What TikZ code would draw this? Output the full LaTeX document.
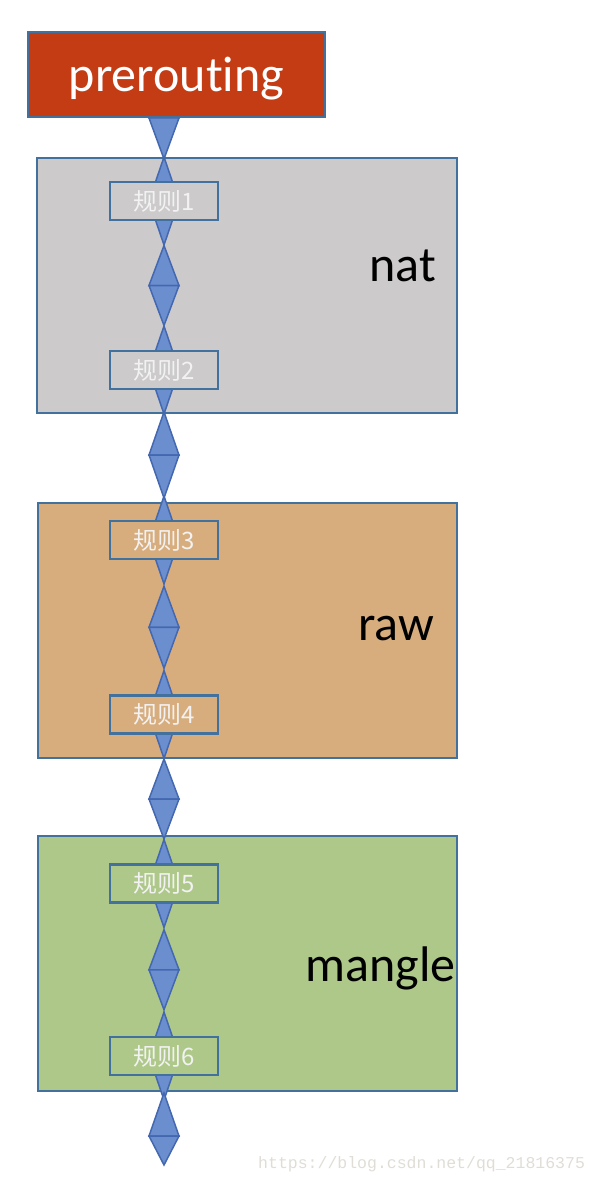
\documentclass[tikz,border=0pt]{standalone}
\usepackage{fontspec}
\setmainfont[Ligatures=NoCommon]{Carlito}
\newfontfamily\cjkfont{Noto Sans CJK SC}
\newfontfamily\urlfont{Liberation Mono}
\usetikzlibrary{calc, backgrounds}

\definecolor{hookred}{HTML}{C43C14}
\definecolor{edgeblue}{HTML}{41719C}
\definecolor{natgray}{HTML}{CCCACB}
\definecolor{rawtan}{HTML}{D8AD7E}
\definecolor{manglegreen}{HTML}{AEC88A}
\definecolor{kitefill}{HTML}{6B8ECF}
\definecolor{kiteedge}{HTML}{4468B0}
\definecolor{markgray}{HTML}{E0DDD6}

\pgfdeclarelayer{links}
\pgfsetlayers{background,links,main}

% diamond made of two triangles: centre, upper and lower half-heights
\newcommand{\kite}[3]{%
  \filldraw[link] #1 ++(-15,0) -- ++(15,-#2) -- ++(15,#2) -- cycle;
  \filldraw[link] #1 ++(-15,0) -- ++(15,#3) -- ++(15,-#3) -- cycle;}

\begin{document}
\begin{tikzpicture}[
    x=1pt, y=-1pt,
    table/.style={draw=edgeblue, line width=2pt, minimum width=420pt, minimum height=255pt, inner sep=0pt},
    rule/.style={draw=edgeblue, line width=2.6pt, minimum width=108pt, minimum height=38pt, inner sep=0pt,
                 text=white!95!black, font=\cjkfont\fontsize{24}{24}\selectfont},
    tablename/.style={inner sep=0pt, font=\fontsize{50}{50}\selectfont},
    link/.style={fill=kitefill, draw=kiteedge, line width=1.5pt, line join=miter}
]
    \useasboundingbox (0,0) rectangle (598,1182);

    % Tables
    \begin{pgfonlayer}{background}
    \node[table, fill=natgray] (nat) at (246.5,285.5) {};
    \node[table, fill=rawtan, minimum width=419pt] (raw) at (247.5,630.5) {};
    \node[table, fill=manglegreen, minimum width=419pt] (mangle) at (247.5,963.5) {};
    \end{pgfonlayer}

    \node[tablename, anchor=base east] (natname) at (436,281) {nat};
    \node[tablename, anchor=base east] (rawname) at (434,640) {raw};
    \node[tablename, anchor=base east] (manglename) at (456,981) {mangle};

    % Chain head
    \node[draw=edgeblue, line width=2pt, fill=hookred, text=white, minimum width=297pt, minimum height=85pt,
          text height=35pt, text depth=0pt, font=\fontsize{50}{50}\selectfont] (pre) at (176.5,74.5) {prerouting};

    % Rules
    \node[rule, fill=natgray] (r1) at (164,201) {规则1};
    \node[rule, fill=natgray] (r2) at (164,370) {规则2};
    \node[rule, fill=rawtan] (r3) at (164,540) {规则3};
    \node[rule, fill=rawtan] (r4) at (164,714.5) {规则4};
    \node[rule, fill=manglegreen] (r5) at (164,883.5) {规则5};
    \node[rule, fill=manglegreen] (r6) at (164,1056) {规则6};
    \coordinate (out) at (164,1165);

    % Links
    \begin{pgfonlayer}{links}
    \kite{(pre.south -| r1)}{40}{41}
    \foreach \r in {r1,r2,r3,r4,r5,r6}
        \kite{(\r)}{44}{44};
    \kite{($(r1.south)!0.5!(r2.north)$)}{40}{40}
    \kite{($(r2.south)!0.5!(r3.north)$)}{43}{43}
    \kite{($(r3.south)!0.5!(r4.north)$)}{41}{41}
    \kite{($(r4.south)!0.5!(r5.north)$)}{40}{40}
    \kite{($(r5.south)!0.5!(r6.north)$)}{40}{40}
    \kite{($(out)+(0,-29)$)}{43}{29}
    \end{pgfonlayer}

    \node[anchor=base west, inner sep=0pt, text=markgray, font=\urlfont\fontsize{16.5}{16.5}\selectfont] (mark)
        at (258,1168) {https://blog.csdn.net/qq\_21816375};
\end{tikzpicture}
\end{document}
